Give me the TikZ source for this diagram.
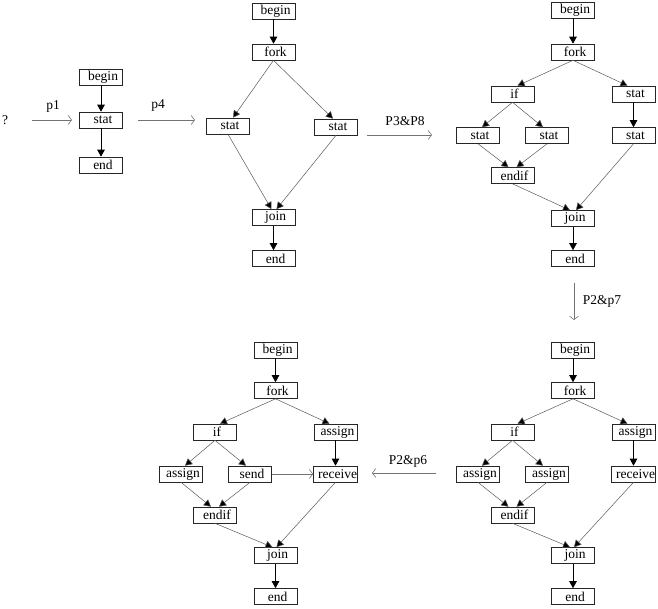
\documentclass[tikz,border=0pt]{standalone}
\usepackage{fontspec}
\setmainfont{Liberation Serif}
\usetikzlibrary{arrows.meta}
\begin{document}
\begin{tikzpicture}[x=1pt,y=-1pt,
  box/.style={draw=black!85,line width=0.6pt,minimum width=43pt,minimum height=16pt,
    inner xsep=0.5pt,inner ysep=0pt,font=\fontsize{13.5}{13.5}\selectfont,
    execute at begin node=\hspace*{4pt}},
  vedge/.style={draw=black,line width=0.7pt,-{Triangle[width=7.5pt,length=7pt]}},
  dedge/.style={draw=black!65,line width=0.5pt,-{Triangle[width=7.5pt,length=7pt,fill=black]}},
  flow/.style={draw=black!55,line width=0.6pt,-{Straight Barb[length=3.5pt,width=9pt]}},
  lbl/.style={font=\fontsize{13.5}{13.5}\selectfont,inner sep=0pt}]
\useasboundingbox (0,0) rectangle (658,609);

% ---- first graph
\node[box] (a1) at (101,77) {begin};
\node[box] (a2) at (101,120) {stat};
\node[box] (a3) at (101,165) {end};
\draw[vedge] (a1) -- (a2);
\draw[vedge] (a2) -- (a3);

% ---- second graph
\node[box] (b1) at (273.5,11) {begin};
\node[box] (b2) at (273.5,52) {fork};
\node[box] (b3) at (228,126) {stat};
\node[box] (b4) at (336,127) {stat};
\node[box] (b5) at (273.5,217.5) {join};
\node[box] (b6) at (273.5,258.5) {end};
\draw[vedge] (b1) -- (b2);
\draw[dedge] (b2.south) -- ([xshift=5pt]b3.north);
\draw[dedge] (b2.south) -- ([xshift=-3pt]b4.north);
\draw[dedge] (b3.south) -- ([xshift=-2pt]b5.north);
\draw[dedge] (b4.south) -- ([xshift=3pt]b5.north);
\draw[vedge] (b5) -- (b6);

% ---- third graph
\node[box] (c1) at (573,10) {begin};
\node[box] (c2) at (573,52) {fork};
\node[box] (c3) at (512.5,94) {if};
\node[box] (c4) at (633.5,94) {stat};
\node[box] (c5) at (478,135.5) {stat};
\node[box] (c6) at (547,135.5) {stat};
\node[box] (c7) at (633.5,135.5) {stat};
\node[box] (c8) at (512.5,175.5) {endif};
\node[box] (c9) at (573,218.5) {join};
\node[box] (c10) at (573,258.5) {end};
\draw[vedge] (c1) -- (c2);
\draw[dedge] (c2.south) -- ([xshift=5pt]c3.north);
\draw[dedge] (c2.south) -- ([xshift=-6pt]c4.north);
\draw[dedge] (c3.south) -- ([xshift=4pt]c5.north);
\draw[dedge] (c3.south) -- ([xshift=-4pt]c6.north);
\draw[vedge] (c4) -- (c7);
\draw[dedge] (c5.south) -- ([xshift=-4pt]c8.north);
\draw[dedge] (c6.south) -- ([xshift=4pt]c8.north);
\draw[dedge] (c8.south) -- ([xshift=-3pt]c9.north);
\draw[dedge] (c7.south) -- ([xshift=3pt]c9.north);
\draw[vedge] (c9) -- (c10);

% ---- fourth graph
\node[box] (d1) at (573,350) {begin};
\node[box] (d2) at (573,390.5) {fork};
\node[box] (d3) at (512.5,432) {if};
\node[box] (d4) at (633.5,432) {assign};
\node[box] (d5) at (478,474) {assign};
\node[box] (d6) at (547,474) {assign};
\node[box] (d7) at (633.5,474) {receive};
\node[box] (d8) at (512.5,515) {endif};
\node[box] (d9) at (573,555.5) {join};
\node[box] (d10) at (573,596.5) {end};
\draw[vedge] (d1) -- (d2);
\draw[dedge] (d2.south) -- ([xshift=5pt]d3.north);
\draw[dedge] (d2.south) -- ([xshift=-6pt]d4.north);
\draw[dedge] (d3.south) -- ([xshift=4pt]d5.north);
\draw[dedge] (d3.south) -- ([xshift=-4pt]d6.north);
\draw[vedge] (d4) -- (d7);
\draw[dedge] (d5.south) -- ([xshift=-4pt]d8.north);
\draw[dedge] (d6.south) -- ([xshift=4pt]d8.north);
\draw[dedge] (d8.south) -- ([xshift=-3pt]d9.north);
\draw[dedge] (d7.south) -- ([xshift=1pt]d9.north);
\draw[vedge] (d9) -- (d10);

% ---- fifth graph
\node[box] (e1) at (275.5,350) {begin};
\node[box] (e2) at (275.5,390.5) {fork};
\node[box] (e3) at (215,432) {if};
\node[box] (e4) at (335.5,432) {assign};
\node[box] (e5) at (181,474) {assign};
\node[box] (e6) at (250,474) {send};
\node[box] (e7) at (335.5,474) {receive};
\node[box] (e8) at (215,515) {endif};
\node[box] (e9) at (275.5,555.5) {join};
\node[box] (e10) at (275.5,596.5) {end};
\draw[vedge] (e1) -- (e2);
\draw[dedge] (e2.south) -- ([xshift=5pt]e3.north);
\draw[dedge] (e2.south) -- ([xshift=-6pt]e4.north);
\draw[dedge] (e3.south) -- ([xshift=4pt]e5.north);
\draw[dedge] (e3.south) -- ([xshift=-4pt]e6.north);
\draw[vedge] (e4) -- (e7);
\draw[flow] (e6) -- (e7);
\draw[dedge] (e5.south) -- ([xshift=-4pt]e8.north);
\draw[dedge] (e6.south) -- ([xshift=4pt]e8.north);
\draw[dedge] (e8.south) -- ([xshift=-3pt]e9.north);
\draw[dedge] (e7.south) -- ([xshift=1pt]e9.north);
\draw[vedge] (e9) -- (e10);

% ---- transformation steps
\node[lbl] (q) at (5,120) {?};
\coordinate (p1s) at (32,120);  \coordinate (p1e) at (72,120);
\coordinate (p4s) at (138,120); \coordinate (p4e) at (195,120);
\coordinate (p38s) at (367,135); \coordinate (p38e) at (432,135);
\coordinate (p27s) at (574,283); \coordinate (p27e) at (574,320);
\coordinate (p26s) at (436,473); \coordinate (p26e) at (372,473);
\draw[flow] (p1s) -- (p1e);
\draw[flow] (p4s) -- (p4e);
\draw[flow] (p38s) -- (p38e);
\draw[flow] (p27s) -- (p27e);
\draw[flow] (p26s) -- (p26e);
\node[lbl] (l1) at (53,106) {p1};
\node[lbl] (l4) at (158,105) {p4};
\node[lbl] (l38) at (405,121) {P3\&P8};
\node[lbl] (l27) at (602,301) {P2\&p7};
\node[lbl] (l26) at (408,461) {P2\&p6};
\end{tikzpicture}
\end{document}
